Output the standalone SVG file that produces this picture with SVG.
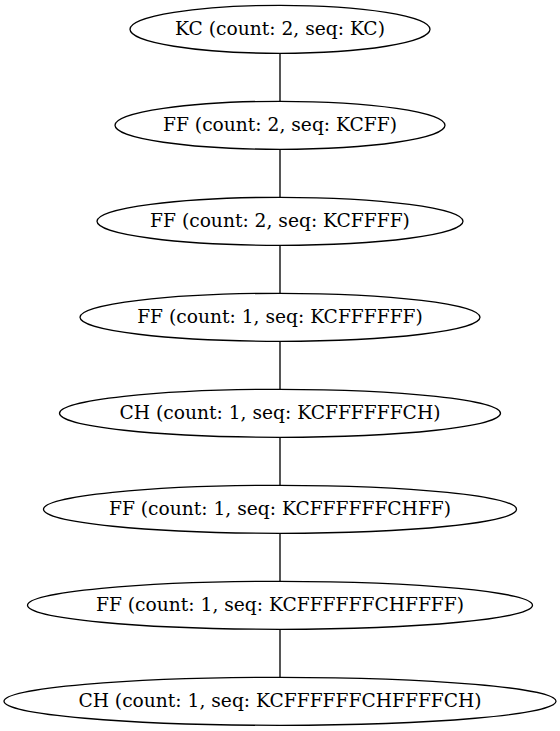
<svg xmlns="http://www.w3.org/2000/svg" width="560" height="731" viewBox="0 0 560 731">
<style>
.n ellipse{fill:none;stroke:#000;stroke-width:1.33}
.n text{font-family:"DejaVu Serif",serif;font-size:18.67px;text-anchor:middle;fill:#000}
.e line{stroke:#000;stroke-width:1.33}
</style>
<rect width="560" height="731" fill="#fff"/>
<g class="e">
<line x1="280" y1="53.3" x2="280" y2="101.3"/>
<line x1="280" y1="149.3" x2="280" y2="197.3"/>
<line x1="280" y1="245.3" x2="280" y2="293.3"/>
<line x1="280" y1="341.3" x2="280" y2="389.3"/>
<line x1="280" y1="437.3" x2="280" y2="485.3"/>
<line x1="280" y1="533.3" x2="280" y2="581.3"/>
<line x1="280" y1="629.3" x2="280" y2="677.3"/>
</g>
<g id="n1" class="n"><ellipse cx="280" cy="29.3" rx="150" ry="24"/><text x="280" y="34.8">KC (count: 2, seq: KC)</text></g>
<g id="n2" class="n"><ellipse cx="280" cy="125.3" rx="165" ry="24"/><text x="280" y="130.8">FF (count: 2, seq: KCFF)</text></g>
<g id="n3" class="n"><ellipse cx="280" cy="221.3" rx="183" ry="24"/><text x="280" y="226.8">FF (count: 2, seq: KCFFFF)</text></g>
<g id="n4" class="n"><ellipse cx="280" cy="317.3" rx="200" ry="24"/><text x="280" y="322.8">FF (count: 1, seq: KCFFFFFF)</text></g>
<g id="n5" class="n"><ellipse cx="280" cy="413.3" rx="220.5" ry="24"/><text x="280" y="418.8">CH (count: 1, seq: KCFFFFFFCH)</text></g>
<g id="n6" class="n"><ellipse cx="280" cy="509.3" rx="236.5" ry="24"/><text x="280" y="514.8">FF (count: 1, seq: KCFFFFFFCHFF)</text></g>
<g id="n7" class="n"><ellipse cx="280" cy="605.3" rx="252.5" ry="24"/><text x="280" y="610.8">FF (count: 1, seq: KCFFFFFFCHFFFF)</text></g>
<g id="n8" class="n"><ellipse cx="280" cy="701.3" rx="276" ry="24"/><text x="280" y="706.8">CH (count: 1, seq: KCFFFFFFCHFFFFCH)</text></g>
</svg>
